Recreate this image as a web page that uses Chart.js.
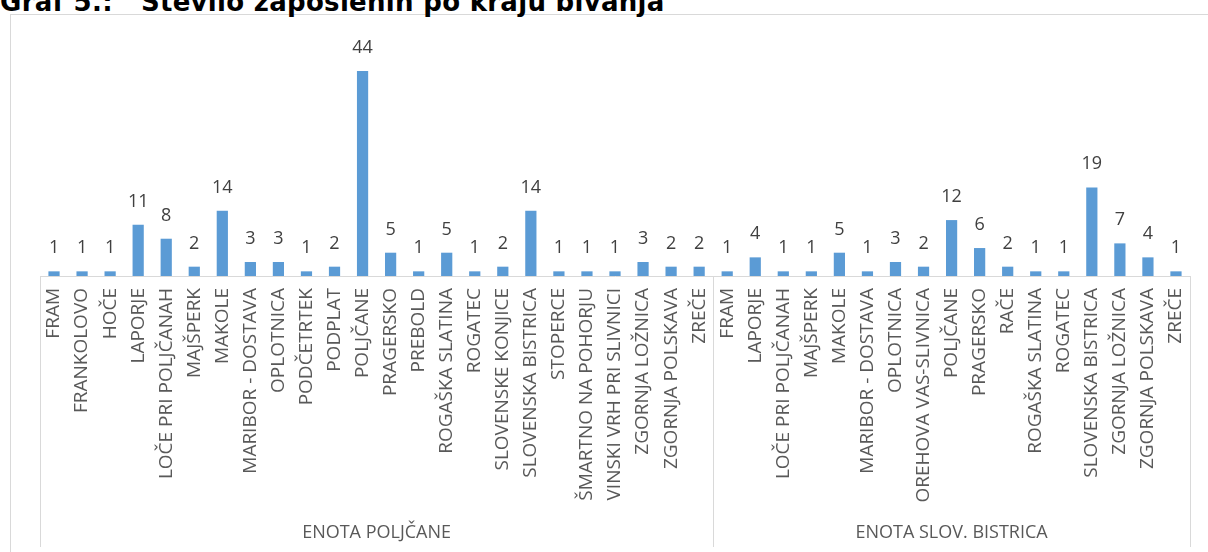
<!DOCTYPE html>
<html>
<head>
<meta charset="utf-8">
<script src="https://cdn.jsdelivr.net/npm/chart.js@4/dist/chart.umd.min.js"></script>
<style>
  html, body { margin: 0; padding: 0; background: #fff; overflow: hidden; }
  #wrap { position: relative; width: 1208px; height: 552px; }
  #frame { position: absolute; left: 10px; top: 14px; width: 1300px; height: 600px; border: 1px solid #d9d9d9; }
  #title { position: absolute; left: 0; top: -13px; font: bold 26px 'DejaVu Sans', sans-serif; letter-spacing: 0.3px; line-height: 30px; color: #000; white-space: pre; }
  canvas { position: absolute; left: 0; top: 0; }
</style>
</head>
<body>
<div id="wrap">
  <div id="frame"></div>
  <div id="title">Graf 5.:   Število zaposlenih po kraju bivanja</div>
  <canvas id="c" width="1208" height="552"></canvas>
</div>
<script>
// Enota Poljčane
const krajiPoljcane = ['FRAM', 'FRANKOLOVO', 'HOČE', 'LAPORJE', 'LOČE PRI POLJČANAH', 'MAJŠPERK', 'MAKOLE',
  'MARIBOR - DOSTAVA', 'OPLOTNICA', 'PODČETRTEK', 'PODPLAT', 'POLJČANE', 'PRAGERSKO', 'PREBOLD',
  'ROGAŠKA SLATINA', 'ROGATEC', 'SLOVENSKE KONJICE', 'SLOVENSKA BISTRICA', 'STOPERCE',
  'ŠMARTNO NA POHORJU', 'VINSKI VRH PRI SLIVNICI', 'ZGORNJA LOŽNICA', 'ZGORNJA POLSKAVA', 'ZREČE'];
const vrednostiPoljcane = [1, 1, 1, 11, 8, 2, 14, 3, 3, 1, 2, 44, 5, 1, 5, 1, 2, 14, 1, 1, 1, 3, 2, 2];

// Enota Slov. Bistrica
const krajiBistrica = ['FRAM', 'LAPORJE', 'LOČE PRI POLJČANAH', 'MAJŠPERK', 'MAKOLE', 'MARIBOR - DOSTAVA',
  'OPLOTNICA', 'OREHOVA VAS-SLIVNICA', 'POLJČANE', 'PRAGERSKO', 'RAČE', 'ROGAŠKA SLATINA', 'ROGATEC',
  'SLOVENSKA BISTRICA', 'ZGORNJA LOŽNICA', 'ZGORNJA POLSKAVA', 'ZREČE'];
const vrednostiBistrica = [1, 4, 1, 1, 5, 1, 3, 2, 12, 6, 2, 1, 1, 19, 7, 4, 1];

const enote = ['ENOTA POLJČANE', 'ENOTA SLOV. BISTRICA'];

const labels = krajiPoljcane.concat(krajiBistrica);
const values = vrednostiPoljcane.concat(vrednostiBistrica);
const groupSizes = [krajiPoljcane.length, krajiBistrica.length];

// številke nad stolpci + skupine pod osjo
const overlay = {
  id: 'overlay',
  afterDatasetsDraw(chart) {
    const { ctx } = chart;
    const meta = chart.getDatasetMeta(0);
    ctx.save();
    ctx.fillStyle = '#404040';
    ctx.font = "18px 'Open Sans', sans-serif";
    ctx.textAlign = 'center';
    ctx.textBaseline = 'alphabetic';
    meta.data.forEach((bar, i) => {
      ctx.fillText(String(values[i]), bar.x, bar.y - 18);
    });
    ctx.restore();
  },
  afterDraw(chart) {
    const { ctx } = chart;
    const x = chart.scales.x;
    const top = x.top;
    const bottom = 547;
    const step = x.getPixelForValue(1) - x.getPixelForValue(0);
    const edges = [x.left];
    let idx = 0;
    groupSizes.forEach((n) => {
      idx += n;
      edges.push(idx >= labels.length ? x.right : x.getPixelForValue(idx) - step / 2);
    });
    ctx.save();
    ctx.strokeStyle = '#d9d9d9';
    ctx.lineWidth = 1;
    edges.forEach((ex) => {
      ctx.beginPath();
      ctx.moveTo(Math.round(ex) + 0.5, top);
      ctx.lineTo(Math.round(ex) + 0.5, bottom);
      ctx.stroke();
    });
    ctx.fillStyle = '#595959';
    ctx.font = "18px 'Open Sans', sans-serif";
    ctx.textAlign = 'center';
    ctx.textBaseline = 'middle';
    enote.forEach((e, g) => {
      ctx.fillText(e, (edges[g] + edges[g + 1]) / 2, 533);
    });
    ctx.restore();
  }
};

new Chart(document.getElementById('c'), {
  type: 'bar',
  data: {
    labels,
    datasets: [{
      data: values,
      backgroundColor: '#5b9bd5',
      barPercentage: 0.4,
      categoryPercentage: 1,
    }],
  },
  options: {
    responsive: false,
    animation: false,
    layout: { padding: { left: 40, right: 18, top: 43, bottom: 0 } },
    plugins: { legend: { display: false }, tooltip: { enabled: false } },
    scales: {
      x: {
        grid: { display: false },
        border: { display: true, color: '#d9d9d9', width: 1 },
        ticks: {
          autoSkip: false,
          minRotation: 90,
          maxRotation: 90,
          padding: 4,
          color: '#595959',
          font: { family: "'Open Sans', sans-serif", size: 19 },
        },
        afterFit: (scale) => { scale.height = 276; },
      },
      y: { display: false, min: 0, max: 50 },
    },
  },
  plugins: [overlay],
});
</script>
</body>
</html>
